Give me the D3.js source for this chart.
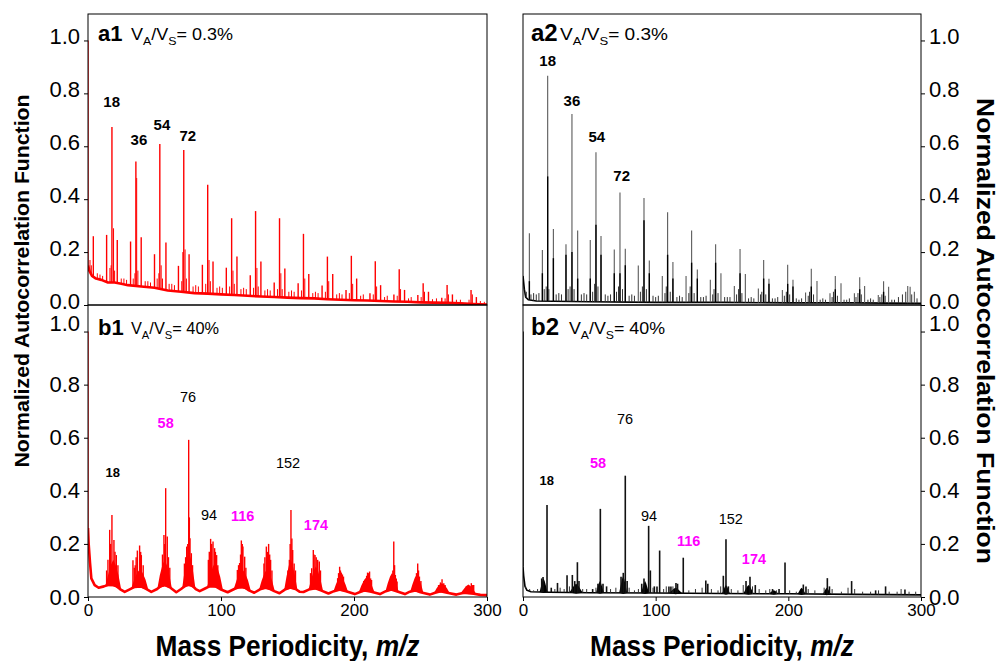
<!DOCTYPE html>
<html>
<head>
<meta charset="utf-8">
<script src="https://cdn.jsdelivr.net/npm/d3@7/dist/d3.min.js"></script>
<style>
  body { margin: 0; background: #fff; }
  svg { display: block; }
  text { font-family: "Liberation Sans", Arial, sans-serif; }
</style>
</head>
<body>
<div id="chart"></div>
<script>
// ---- data: [m/z, normalized ACF] ----
const yTicks = [0, 0.2, 0.4, 0.6, 0.8, 1.0];
const xTicks = [0, 100, 200, 300];

// a1 : red, V_A/V_S = 0.3%
const a1Base = [[0,0.15],[1,0.13],[3,0.11],[6,0.1],[10,0.095],[15,0.085],[20,0.085],[25,0.08],[30,0.075],[40,0.07],[50,0.065],[60,0.055],[70,0.05],[80,0.045],[90,0.043],[100,0.04],[110,0.038],[120,0.035],[130,0.032],[140,0.03],[150,0.028],[160,0.026],[170,0.025],[180,0.022],[190,0.02],[200,0.018],[210,0.017],[220,0.015],[230,0.013],[240,0.012],[250,0.01],[260,0.009],[270,0.008],[280,0.006],[290,0.004],[300,0.002]];
const a1Peaks = [[0,1.0],[4,0.26],[14,0.265],[18,0.673],[22,0.246],[32,0.24],[36,0.542],[40,0.256],[50,0.192],[54,0.609],[58.6,0.236],[68,0.148],[72,0.586],[76,0.192],[86,0.152],[90,0.455],[94,0.164],[104,0.141],[108,0.328],[112,0.183],[122,0.112],[126,0.355],[130,0.164],[140,0.085],[144,0.328],[148,0.138],[158,0.082],[162,0.269],[166,0.117],[176,0.074],[180,0.183],[184,0.117],[194,0.057],[198,0.186],[202,0.1],[212,0.044],[216,0.165],[220,0.075],[230,0.04],[234,0.135],[238,0.057],[248,0.038],[252,0.082],[256,0.05],[266,0.027],[270,0.076],[274,0.04],[288,0.057],[292,0.03]];
const a1Minor = [[1.5,0.17],[2.5,0.15],[7,0.12],[9,0.115],[11,0.11],[16.5,0.14],[17.4,0.15],[19.2,0.29],[20,0.13],[25,0.1],[27,0.1],[29,0.095],[34,0.1],[35.3,0.12],[36.6,0.48],[37.5,0.13],[43,0.09],[45,0.09],[47,0.085],[52,0.1],[53.3,0.12],[55,0.15],[56,0.1],[61,0.08],[63,0.08],[65,0.075],[70.5,0.09],[71.3,0.2],[73,0.21],[74,0.1],[79,0.07],[81,0.075],[83,0.07],[88.5,0.08],[91,0.17],[92,0.09],[97,0.065],[99,0.07],[101,0.065],[106.5,0.07],[109,0.13],[110,0.08],[115,0.06],[117,0.065],[119,0.06],[124.5,0.065],[127,0.14],[128,0.07],[133,0.055],[135,0.06],[137,0.055],[142.5,0.06],[145,0.12],[146,0.06],[151,0.05],[153,0.055],[155,0.05],[160.5,0.055],[163,0.1],[169,0.045],[171,0.05],[173,0.045],[178.5,0.05],[181,0.09],[187,0.04],[189,0.045],[191,0.04],[196.5,0.045],[199,0.08],[205,0.035],[207,0.04],[214.5,0.04],[217,0.07],[223,0.03],[225,0.035],[232.5,0.035],[235,0.06],[241,0.025],[243,0.03],[250.5,0.03],[253,0.05],[259,0.022],[262,0.025],[268.5,0.025],[271,0.04],[277,0.02],[280,0.02],[286.5,0.02],[289,0.04],[295,0.015],[298,0.012]];
const a1Labels = [["18",17.8,0.767],["36",38.3,0.624],["54",55.6,0.68],["72",75,0.639]];

// a2 : black, V_A/V_S = 0.3%
const a2Base = [[0,0.11],[1,0.06],[2,0.03],[4,0.02],[10,0.015],[50,0.012],[100,0.01],[150,0.01],[200,0.008],[250,0.008],[300,0.006]];
const a2Peaks = [[0,0.11],[4.8,0.271],[14.6,0.208],[18.6,0.867],[22.9,0.287],[32.4,0.23],[36.9,0.722],[41.2,0.282],[50.7,0.246],[55,0.577],[58.8,0.261],[68.8,0.21],[73.1,0.425],[77.1,0.213],[86.9,0.149],[91.2,0.404],[95.2,0.168],[105,0.11],[109,0.351],[113,0.163],[122.9,0.11],[127.1,0.282],[131.4,0.134],[141.2,0.095],[145.2,0.23],[149.2,0.12],[159.3,0.072],[163.6,0.212],[167.6,0.117],[177.4,0.062],[181.4,0.17],[185.4,0.099],[195.5,0.057],[199.5,0.152],[203.5,0.095],[213,0.047],[217.3,0.137],[221.6,0.091],[231.4,0.044],[235.4,0.11],[239.7,0.082],[249.8,0.044],[253.8,0.105],[257.5,0.072],[267.8,0.038],[271.8,0.09],[275.6,0.069],[290,0.072],[291.8,0.069],[295,0.05]];
const a2Core = [[4.8,0.09],[14.6,0.12],[18.6,0.486],[22.9,0.177],[32.4,0.19],[36.9,0.2],[41.2,0.1],[50.7,0.1],[55,0.303],[58.8,0.19],[68.8,0.12],[73.1,0.12],[77.1,0.15],[91.2,0.32],[95.2,0.12],[109,0.19],[113,0.1],[127.1,0.16],[131.4,0.1],[145.2,0.16],[163.6,0.12],[181.4,0.1],[185.4,0.08],[199.5,0.08],[203.5,0.07],[217.3,0.07],[235.4,0.06],[253.8,0.06],[271.8,0.05]];
const a2Minor = [[1.5,0.04],[2.5,0.05],[6,0.04],[8,0.045],[10,0.04],[12,0.045],[16,0.06],[17.5,0.07],[19.5,0.06],[25,0.04],[27,0.045],[29,0.04],[34,0.06],[35.5,0.07],[38.5,0.06],[44,0.04],[46,0.045],[48,0.04],[52.5,0.05],[54,0.08],[56.5,0.07],[62,0.04],[64,0.035],[66,0.04],[70.5,0.05],[72,0.07],[75,0.06],[80,0.035],[82,0.04],[84,0.035],[88.5,0.05],[90,0.07],[93,0.06],[98,0.035],[100,0.03],[102,0.035],[107,0.045],[108,0.07],[111,0.05],[116,0.03],[118,0.035],[120,0.03],[125,0.045],[126,0.07],[129,0.045],[134,0.03],[136,0.03],[138,0.035],[143,0.04],[144,0.06],[147,0.045],[152,0.03],[154,0.03],[156,0.03],[161,0.04],[162.5,0.06],[165,0.045],[170,0.025],[172,0.03],[174,0.025],[179,0.04],[180,0.05],[183,0.04],[188,0.025],[190,0.025],[192,0.03],[197,0.035],[198.5,0.05],[201,0.04],[206,0.025],[208,0.02],[210,0.025],[215,0.035],[216,0.05],[219,0.04],[224,0.02],[226,0.025],[228,0.02],[233,0.03],[234,0.05],[237,0.035],[242,0.02],[244,0.02],[246,0.025],[251,0.03],[252.5,0.045],[255,0.04],[260,0.02],[262,0.025],[264,0.02],[269,0.03],[270.5,0.04],[273,0.035],[278,0.02],[280,0.02],[283,0.03],[286,0.04],[288.5,0.05],[293,0.04],[297,0.025]];
const a2Labels = [["18",18.6,0.922],["36",36.9,0.772],["54",55.6,0.635],["72",74.4,0.488]];

// b1 : red, V_A/V_S = 40%
const b1Base = [[0,0.26],[0.5,0.2],[1.5,0.13],[2.5,0.07],[5,0.045],[8,0.035],[12,0.04],[15,0.045],[18,0.046],[21,0.042],[24,0.03],[27.6,0.019],[31,0.028],[35,0.038],[40,0.04],[44,0.03],[47.6,0.019],[52,0.03],[55,0.042],[58,0.045],[62,0.035],[66.4,0.018],[70,0.03],[74,0.045],[78,0.045],[81,0.03],[84,0.022],[88,0.032],[92,0.042],[96,0.04],[100,0.028],[105,0.018],[110,0.03],[114,0.038],[118,0.036],[121,0.025],[125,0.016],[129,0.028],[133,0.036],[137,0.03],[140,0.022],[144,0.014],[148,0.028],[152,0.036],[156,0.03],[159,0.02],[162,0.019],[166,0.028],[171,0.033],[175,0.025],[180.8,0.013],[185,0.022],[189,0.028],[194,0.022],[200.6,0.011],[205,0.02],[208,0.025],[213,0.02],[219.5,0.011],[224,0.022],[228,0.028],[232,0.022],[238.3,0.011],[242,0.02],[246,0.025],[250,0.018],[257,0.009],[261,0.016],[265,0.022],[270,0.016],[277,0.009],[281,0.014],[284,0.016],[290,0.012],[295,0.008],[300,0.007]];
const b1Humps = [[19,6,0.14],[39,6.5,0.105],[57.6,5.5,0.14],[75.8,5,0.17],[95.5,6,0.13],[116,6.5,0.105],[134.5,6,0.105],[152.5,5,0.14],[171.3,5.5,0.115],[190,5.5,0.08],[209.5,6,0.075],[228.6,5,0.09],[247.2,5,0.085],[266,6,0.052],[286,6,0.047]];
const b1Peaks = [[0,1.0],[14,0.1],[15,0.14],[16.3,0.253],[17,0.2],[18,0.309],[19.5,0.215],[20.3,0.17],[21.3,0.158],[22.5,0.12],[33.8,0.138],[34.8,0.11],[35.5,0.12],[36.2,0.15],[37.1,0.175],[38.8,0.194],[39.6,0.17],[40.1,0.158],[41.5,0.12],[55.5,0.1],[56,0.16],[57.1,0.234],[57.7,0.2],[58.4,0.41],[59.6,0.228],[60.5,0.15],[61.5,0.11],[72.5,0.126],[73.4,0.15],[74.2,0.19],[75,0.2],[75.7,0.592],[76.2,0.3],[76.7,0.221],[77.7,0.165],[78.6,0.12],[90.5,0.14],[91.2,0.17],[92.2,0.219],[93,0.2],[94,0.209],[95.2,0.184],[95.8,0.17],[96.7,0.158],[97.6,0.12],[112.3,0.102],[113.2,0.12],[114,0.128],[114.7,0.16],[115.3,0.213],[116,0.2],[116.5,0.19],[117.8,0.152],[118.7,0.11],[132.3,0.126],[133,0.15],[134.1,0.19],[134.9,0.17],[135.8,0.2],[136.6,0.16],[137.3,0.14],[138.3,0.1],[150.3,0.1],[151.4,0.14],[152,0.2],[152.6,0.328],[153.3,0.22],[153.9,0.177],[155,0.126],[156,0.1],[167.3,0.09],[168.2,0.108],[169.4,0.177],[169.9,0.16],[170.7,0.158],[171.6,0.15],[172.7,0.14],[173.9,0.134],[174.8,0.1],[187.7,0.071],[188.4,0.09],[189.2,0.114],[189.8,0.1],[190.5,0.092],[191.3,0.085],[192.1,0.077],[207.3,0.06],[208.4,0.064],[209.5,0.08],[210.2,0.092],[211,0.09],[211.7,0.096],[212.5,0.07],[213.2,0.064],[228.7,0.064],[229.2,0.1],[229.9,0.209],[230.5,0.12],[231.1,0.083],[231.8,0.07],[232.4,0.058],[246.2,0.064],[247,0.09],[247.9,0.126],[248.5,0.1],[249.2,0.077],[250.3,0.06],[263.6,0.045],[265,0.055],[266.2,0.067],[267.5,0.052],[268.5,0.045],[285.7,0.033],[286.5,0.04],[288.2,0.052],[289,0.045],[290,0.045]];
const b1Labels = [["76",75.2,0.753,"n"],["58",58.4,0.655,"m"],["18",18.6,0.468,"s"],["152",150.4,0.505,"n"],["94",91,0.309,"n"],["116",116.3,0.305,"m"],["174",171.4,0.271,"m"]];

// b2 : black, V_A/V_S = 40%
const b2Base = [[0,0.114],[0.5,0.08],[1.5,0.04],[3,0.025],[6,0.02],[20,0.018],[50,0.016],[100,0.015],[150,0.013],[200,0.012],[250,0.01],[300,0.008]];
const b2Humps = [[15.5,3,0.07],[40,5,0.05],[58,3,0.06],[75.5,3,0.08],[92,3,0.06],[115,5,0.035],[153,3,0.045],[170,4,0.045],[189,4,0.025],[210,3,0.035],[229,3,0.035]];
const b2Peaks = [[0,1.0],[14.1,0.07],[15.1,0.075],[18.1,0.347],[21.3,0.035],[26,0.053],[33.2,0.082],[37.2,0.083],[39,0.06],[41,0.131],[42.2,0.06],[52.5,0.03],[56.5,0.05],[58.3,0.332],[60.3,0.05],[63,0.04],[73.9,0.076],[75.6,0.091],[77.1,0.457],[78.5,0.06],[89.5,0.05],[91.2,0.07],[94.7,0.268],[96,0.1],[99,0.04],[101,0.04],[103,0.175],[110,0.04],[111.5,0.04],[115.3,0.053],[116.5,0.05],[120.8,0.148],[137.8,0.062],[139.3,0.05],[151,0.08],[153,0.218],[154.8,0.04],[168.1,0.06],[171.1,0.076],[175.1,0.045],[188.1,0.03],[193,0.03],[197.5,0.13],[211.3,0.047],[213.3,0.04],[229.4,0.071],[231,0.04],[247.7,0.06],[265.8,0.025],[273.3,0.04],[287.9,0.028]];
const b2Minor = [[2,0.04],[5,0.03],[8,0.025],[11,0.03],[24,0.03],[28,0.035],[31,0.03],[35,0.04],[45,0.03],[48,0.03],[55,0.035],[66,0.03],[70,0.035],[80,0.035],[84,0.025],[87,0.03],[98,0.035],[106,0.03],[108,0.04],[113,0.04],[125,0.025],[130,0.03],[135,0.035],[142,0.03],[147,0.025],[149,0.04],[157,0.03],[162,0.025],[166,0.045],[173,0.04],[178,0.03],[183,0.025],[186,0.03],[191,0.025],[201,0.025],[206,0.02],[215,0.03],[220,0.025],[227,0.035],[233,0.03],[240,0.02],[245,0.035],[250,0.03],[256,0.02],[262,0.02],[268,0.025],[276,0.02],[282,0.02],[285,0.03],[291,0.02],[296,0.02]];
const b2Labels = [["76",76.9,0.67,"n"],["58",56.5,0.505,"m"],["18",17.9,0.44,"s"],["94",95,0.305,"n"],["152",156.6,0.294,"n"],["116",124.9,0.212,"m"],["174",174.1,0.144,"m"]];

// ---- layout ----
const width = 998, height = 661;
const cols = [{x0: 88, x1: 487, side: "left"}, {x0: 523, x1: 921, side: "right"}];
const rows = [{y0: 14, y1: 305}, {y0: 305, y1: 597}];

const panels = [
  {tag: "a1", pct: "0.3%", col: 0, row: 0, color: "#ff0000", base: a1Base, peaks: a1Peaks, minor: a1Minor, labels: a1Labels.map(d => [...d, "b"]), tw: 102},
  {tag: "a2", pct: "0.3%", col: 1, row: 0, color: "#000", peakColor: "#5a5a5a", base: a2Base, peaks: a2Peaks, core: a2Core, minor: a2Minor, labels: a2Labels.map(d => [...d, "b"]), tw: 108},
  {tag: "b1", pct: "40%", col: 0, row: 1, color: "#ff0000", base: b1Base, humps: b1Humps, peaks: b1Peaks, labels: b1Labels, tw: 88},
  {tag: "b2", pct: "40%", col: 1, row: 1, color: "#000", peakColor: "#111", base: b2Base, humps: b2Humps, peaks: b2Peaks, minor: b2Minor, labels: b2Labels, tw: 96}
];

const labelStyle = {
  b: {size: 15, weight: "bold", fill: "#000"},
  n: {size: 14.5, weight: "normal", fill: "#000"},
  m: {size: 14.5, weight: "bold", fill: "#ff00ff"},
  s: {size: 13, weight: "bold", fill: "#000"}
};

const svg = d3.select("#chart").append("svg")
    .attr("width", width)
    .attr("height", height);

function baseAt(base, m) {
  const i = d3.bisector(d => d[0]).right(base, m);
  if (i <= 0) return base[0][1];
  if (i >= base.length) return base[base.length - 1][1];
  const a = base[i - 1], b = base[i];
  return a[1] + (b[1] - a[1]) * (m - a[0]) / (b[0] - a[0]);
}

panels.forEach(p => {
  const c = cols[p.col], r = rows[p.row];
  const x = d3.scaleLinear().domain([0, 300]).range([c.x0, c.x1]);
  const y = d3.scaleLinear().domain([0, 1.1]).range([r.y1, r.y0]);
  const g = svg.append("g");
  const clipId = "clip-" + p.tag;
  g.append("clipPath").attr("id", clipId)
    .append("rect").attr("x", c.x0).attr("y", r.y0).attr("width", c.x1 - c.x0).attr("height", r.y1 - r.y0);
  const plot = g.append("g").attr("clip-path", `url(#${clipId})`);

  // humps: dense clusters drawn as solid bells sitting on the baseline
  if (p.humps) {
    plot.append("g").selectAll("path")
      .data(p.humps)
      .join("path")
      .attr("fill", p.color)
      .attr("d", d => {
        const [m, hw, h] = d;
        const bl = baseAt(p.base, m - hw), br = baseAt(p.base, m + hw), bc = baseAt(p.base, m);
        const k = h - bc;
        const pts = [[m - hw, bl], [m - hw * 0.65, bc + k * 0.4], [m - hw * 0.3, bc + k * 0.8], [m, h],
                     [m + hw * 0.3, bc + k * 0.8], [m + hw * 0.65, bc + k * 0.4], [m + hw, br], [m, bc - 0.004]];
        return d3.line().x(q => x(q[0])).y(q => y(q[1]))(pts) + "Z";
      });
  }

  // baseline
  plot.append("path")
    .datum(p.base)
    .attr("fill", "none")
    .attr("stroke", p.color)
    .attr("stroke-width", p.col === 0 ? 2.6 : 1.6)
    .attr("stroke-linejoin", "round")
    .attr("d", d3.line().x(d => x(d[0])).y(d => y(d[1])));

  const spikes = (data, color, sw) => plot.append("g")
    .attr("stroke", color)
    .attr("stroke-width", sw)
    .selectAll("line")
    .data(data)
    .join("line")
    .attr("x1", d => x(d[0]))
    .attr("x2", d => x(d[0]))
    .attr("y1", d => y(baseAt(p.base, d[0])))
    .attr("y2", d => y(d[1]));

  if (p.minor) spikes(p.minor, p.col === 0 ? p.color : "#333", 1);
  spikes(p.peaks, p.peakColor || p.color, p.col === 0 ? 1.4 : (p.row === 1 ? 1.6 : 1.1));
  if (p.core) spikes(p.core, "#000", 1.4);

  // frame
  g.append("rect")
    .attr("x", c.x0).attr("y", r.y0)
    .attr("width", c.x1 - c.x0).attr("height", r.y1 - r.y0)
    .attr("fill", "none").attr("stroke", "#000").attr("stroke-width", 1);

  // y axis (outer side)
  const yAxis = (c.side === "left" ? d3.axisLeft(y) : d3.axisRight(y))
    .tickValues(yTicks).tickFormat(d3.format(".1f")).tickSize(4).tickPadding(4);
  const ya = g.append("g")
    .attr("transform", `translate(${c.side === "left" ? c.x0 : c.x1},0)`)
    .call(yAxis);
  ya.select(".domain").remove();
  ya.selectAll("line").attr("stroke", "#000");
  ya.selectAll("text")
    .attr("font-size", 22)
    .attr("fill", "#000")
    .attr("font-family", "Liberation Sans, Arial, sans-serif")
    .attr("y", d => p.row === 0 ? -4 : (d === 1 ? -8 : 0));

  // x axis for the bottom row
  if (p.row === 1) {
    const xa = g.append("g")
      .attr("transform", `translate(0,${r.y1})`)
      .call(d3.axisBottom(x).tickValues(xTicks).tickSize(4).tickPadding(3));
    xa.select(".domain").remove();
    xa.selectAll("line").attr("stroke", "#000");
    xa.selectAll("text")
      .attr("font-size", 17)
      .attr("fill", "#000")
      .attr("font-family", "Liberation Sans, Arial, sans-serif");

    const t = g.append("text")
      .attr("x", (c.x0 + c.x1) / 2)
      .attr("y", 656)
      .attr("text-anchor", "middle")
      .attr("font-size", 30)
      .attr("font-weight", "bold")
      .attr("textLength", 264)
      .attr("lengthAdjust", "spacingAndGlyphs");
    t.append("tspan").text("Mass Periodicity, ");
    t.append("tspan").attr("font-style", "italic").text("m/z");
  }

  // panel tag and V_A/V_S text
  const big = p.col === 0 ? 22 : 24;
  g.append("text")
    .attr("x", c.x0 + (p.col === 0 ? 10 : 8))
    .attr("y", r.y0 + (p.row === 0 ? 27 : 30))
    .attr("font-size", big)
    .attr("font-weight", "bold")
    .text(p.tag);
  const vt = g.append("text")
    .attr("x", c.x0 + (p.col === 0 ? 43 : 37 + (p.row === 1 ? 9 : 0)))
    .attr("y", r.y0 + (p.row === 0 ? 26 : 29))
    .attr("font-size", 16)
    .attr("textLength", p.tw)
    .attr("lengthAdjust", "spacingAndGlyphs");
  vt.append("tspan").text("V");
  vt.append("tspan").attr("font-size", 11).attr("dy", 5).text("A");
  vt.append("tspan").attr("dy", -5).text("/V");
  vt.append("tspan").attr("font-size", 11).attr("dy", 5).text("S");
  vt.append("tspan").attr("dy", -5).text("= " + p.pct);

  // peak annotations
  g.append("g").selectAll("text")
    .data(p.labels)
    .join("text")
    .attr("x", d => x(d[1]))
    .attr("y", d => y(d[2]))
    .attr("dy", "0.35em")
    .attr("text-anchor", "middle")
    .attr("font-size", d => labelStyle[d[3]].size)
    .attr("font-weight", d => labelStyle[d[3]].weight)
    .attr("fill", d => labelStyle[d[3]].fill)
    .text(d => d[0]);
});

// shared y titles
svg.append("text")
  .attr("transform", "translate(29,281) rotate(-90)")
  .attr("text-anchor", "middle")
  .attr("font-size", 21)
  .attr("font-weight", "bold")
  .attr("textLength", 373)
  .attr("lengthAdjust", "spacingAndGlyphs")
  .text("Normalized Autocorrelation Function");
svg.append("text")
  .attr("transform", "translate(977,331) rotate(90)")
  .attr("text-anchor", "middle")
  .attr("font-size", 24)
  .attr("font-weight", "bold")
  .attr("textLength", 466)
  .attr("lengthAdjust", "spacingAndGlyphs")
  .text("Normalized Autocorrelation Function");
</script>
</body>
</html>
